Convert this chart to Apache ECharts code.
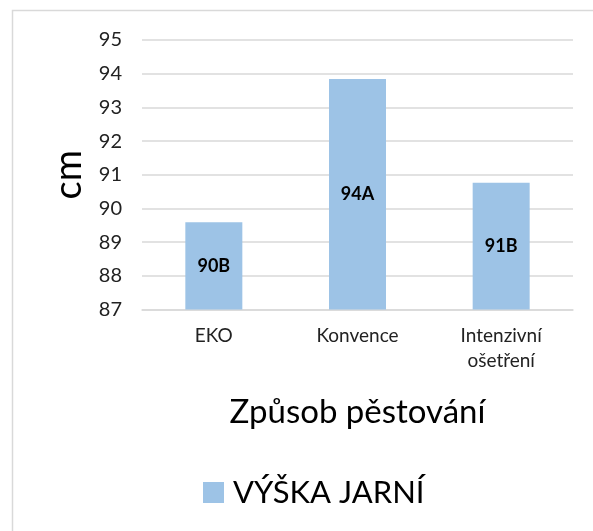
<!DOCTYPE html>
<html>
<head>
<meta charset="utf-8">
<script src="https://cdn.jsdelivr.net/npm/echarts@6/dist/echarts.min.js"></script>
<style>
  html, body { margin: 0; padding: 0; background: #fff; }
  #chart { width: 593px; height: 531px; }
</style>
</head>
<body>
<div id="chart"></div>
<script>
var categories = ['EKO', 'Konvence', 'Intenzivní\nošetření'];
var heights = [89.59, 93.84, 90.76];
var marks = ['90B', '94A', '91B'];
var seriesName = 'VÝŠKA JARNÍ';
var yTicks = [87, 95, 1]; // min, max, step

var font = 'Lato, "Open Sans", sans-serif';
var myChart = echarts.init(document.getElementById('chart'));

var option = {
    backgroundColor: '#fff',
    animation: false,
    textStyle: { fontFamily: font },
    // ramecek grafu
    graphic: [{
        type: 'rect',
        shape: { x: 12.5, y: 10.5, width: 700, height: 700 },
        style: { fill: 'none', stroke: '#d9d9d9', lineWidth: 1.5 }
    }],
    grid: { left: 142, right: 20, top: 40, height: 269.5 },
    legend: {
        data: [seriesName],
        left: 198,
        top: 472,
        icon: 'rect',
        itemWidth: 21,
        itemHeight: 21,
        textStyle: { fontSize: 31, color: '#000', fontFamily: font, padding: [0, 0, 0, 4] }
    },
    xAxis: {
        type: 'category',
        data: categories,
        name: 'Způsob pěstování',
        nameLocation: 'middle',
        nameGap: 86,
        nameTextStyle: { fontSize: 33, color: '#000', fontFamily: font },
        axisLine: { lineStyle: { color: '#d9d9d9', width: 1.5 } },
        axisTick: { show: false },
        axisLabel: { fontSize: 19, color: '#222', margin: 14, lineHeight: 25, fontFamily: font }
    },
    yAxis: {
        type: 'value',
        min: yTicks[0],
        max: yTicks[1],
        interval: yTicks[2],
        name: 'cm',
        nameLocation: 'middle',
        nameGap: 50,
        nameTextStyle: { fontSize: 38, color: '#000', fontFamily: font },
        axisLine: { show: false },
        axisTick: { show: false },
        axisLabel: { fontSize: 20, color: '#222', margin: 20, fontFamily: font },
        splitLine: { lineStyle: { color: '#d9d9d9', width: 1.5 } }
    },
    series: [{
        name: seriesName,
        type: 'bar',
        data: heights,
        barWidth: 57,
        itemStyle: { color: '#9dc3e6' },
        label: {
            show: true,
            position: 'inside',
            fontSize: 18,
            fontWeight: 'bold',
            color: '#000',
            fontFamily: font,
            formatter: function (p) { return marks[p.dataIndex]; }
        }
    }]
};
myChart.setOption(option);
</script>
</body>
</html>
